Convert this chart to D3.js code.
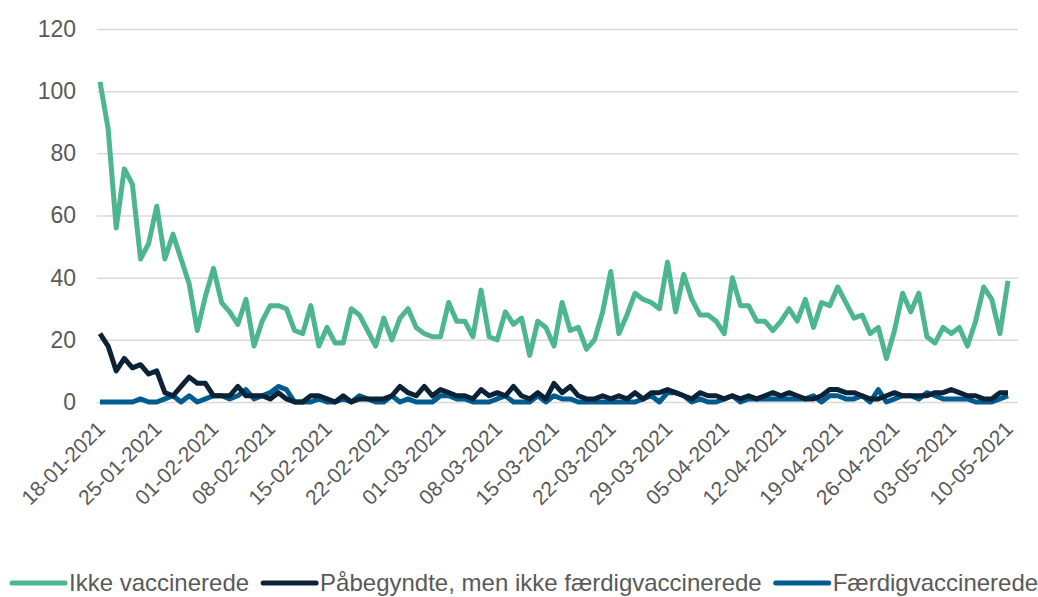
<!DOCTYPE html>
<html>
<head>
<meta charset="utf-8">
<script src="https://cdn.jsdelivr.net/npm/d3@7"></script>
<style>
  body { margin: 0; background: #fff; }
  #graf { width: 1038px; height: 597px; }
  text { font-family: "Liberation Sans", Arial, sans-serif; fill: #595959; }
</style>
</head>
<body>
<div id="graf"></div>
<script>
// -- Datos --
startDate = '18-01-2021'
endDate   = '10-05-2021'

ikkeVacc = [103, 88, 56, 75, 70, 46, 51, 63, 46, 54, 46, 38, 23, 34, 43, 32, 29, 25, 33, 18,
            26, 31, 31, 30, 23, 22, 31, 18, 24, 19, 19, 30, 28, 23, 18, 27, 20, 27, 30, 24,
            22, 21, 21, 32, 26, 26, 21, 36, 21, 20, 29, 25, 27, 15, 26, 24, 18, 32, 23, 24,
            17, 20, 29, 42, 22, 28, 35, 33, 32, 30, 45, 29, 41, 33, 28, 28, 26, 22, 40, 31,
            31, 26, 26, 23, 26, 30, 26, 33, 24, 32, 31, 37, 32, 27, 28, 22, 24, 14, 23, 35,
            29, 35, 21, 19, 24, 22, 24, 18, 26, 37, 33, 22, 39]

paabegyndt = [22, 18, 10, 14, 11, 12, 9, 10, 3, 2, 5, 8, 6, 6, 2, 2, 2, 5, 2, 2,
              2, 1, 3, 1, 0, 0, 2, 2, 1, 0, 2, 0, 1, 1, 1, 1, 2, 5, 3, 2,
              5, 2, 4, 3, 2, 2, 1, 4, 2, 3, 2, 5, 2, 1, 3, 1, 6, 3, 5, 2,
              1, 1, 2, 1, 2, 1, 3, 1, 3, 3, 4, 3, 2, 1, 3, 2, 2, 1, 2, 1,
              2, 1, 2, 3, 2, 3, 2, 1, 1, 2, 4, 4, 3, 3, 2, 1, 1, 2, 3, 2,
              2, 2, 2, 3, 3, 4, 3, 2, 2, 1, 1, 3, 3]

faerdig = [0, 0, 0, 0, 0, 1, 0, 0, 1, 2, 0, 2, 0, 1, 2, 2, 1, 2, 4, 1,
           2, 3, 5, 4, 0, 0, 0, 1, 0, 0, 1, 0, 2, 1, 0, 0, 2, 0, 1, 0,
           0, 0, 2, 2, 1, 1, 0, 0, 0, 1, 2, 0, 0, 0, 2, 0, 2, 1, 1, 0,
           0, 0, 0, 0, 0, 0, 0, 1, 2, 0, 3, 3, 2, 0, 1, 0, 0, 1, 2, 0,
           1, 1, 1, 1, 1, 1, 1, 1, 2, 0, 2, 2, 1, 1, 2, 0, 4, 0, 1, 2,
           2, 1, 3, 2, 1, 1, 1, 1, 0, 0, 0, 1, 2]

serieNavne  = ['Ikke vaccinerede', 'Påbegyndte, men ikke færdigvaccinerede', 'Færdigvaccinerede']
serieFarver = ['#4db68f', '#0c2237', '#005b8f']

xTickLabels = ['18-01-2021', '25-01-2021', '01-02-2021', '08-02-2021', '15-02-2021',
               '22-02-2021', '01-03-2021', '08-03-2021', '15-03-2021', '22-03-2021',
               '29-03-2021', '05-04-2021', '12-04-2021', '19-04-2021', '26-04-2021',
               '03-05-2021', '10-05-2021']
yTicks = [0, 20, 40, 60, 80, 100, 120]

parse = d3.timeParse('%d-%m-%Y')
fechas = d3.timeDay.range(parse(startDate), d3.timeDay.offset(parse(endDate), 1))

series = [ikkeVacc, paabegyndt, faerdig].map((vals, k) => ({
  navn: serieNavne[k],
  farve: serieFarver[k],
  puntos: vals.map((v, i) => ({ fecha: fechas[i], valor: v }))
}))

// -- Canvas --
ancho_total = 1038
alto_total = 597

svg = d3.select('#graf').append('svg')
        .attr('width', ancho_total)
        .attr('height', alto_total)

// -- Escaladores --
x = d3.scaleTime()
      .domain([parse(startDate), parse(endDate)])
      .range([100, 1008])
y = d3.scaleLinear()
      .domain([0, 120])
      .range([402, 29])

// -- Gridlines + eje Y --
yAxis = d3.axisLeft(y).tickValues(yTicks).tickSize(-(1018 - 97)).tickPadding(21)
yAxGroup = svg.append('g')
              .attr('transform', 'translate(97, 0)')
              .call(yAxis)
yAxGroup.select('.domain').remove()
yAxGroup.selectAll('.tick line').attr('stroke', '#d9d9d9').attr('stroke-width', 1.5)
yAxGroup.selectAll('.tick text').style('font-size', '23px').attr('fill', '#595959')

// -- Eje X (etiquetas rotadas) --
svg.append('g').selectAll('text')
   .data(xTickLabels)
   .enter()
   .append('text')
   .attr('transform', d => `translate(${x(parse(d)) + 1}, 425) rotate(-45)`)
   .attr('text-anchor', 'end')
   .attr('dy', '0.35em')
   .style('font-size', '21px')
   .text(d => d)

// -- Lineas --
linea = d3.line()
          .x(d => x(d.fecha))
          .y(d => y(d.valor))

svg.append('g').selectAll('path')
   .data(series.slice().reverse())
   .enter()
   .append('path')
   .attr('d', d => linea(d.puntos))
   .attr('fill', 'none')
   .attr('stroke', d => d.farve)
   .attr('stroke-width', 5)
   .attr('stroke-linejoin', 'round')

// -- Leyenda --
leyenda = svg.append('g').attr('transform', 'translate(0, 583)')
posX = 12
series.forEach(s => {
  leyenda.append('line')
         .attr('x1', posX).attr('x2', posX + 53)
         .attr('stroke', s.farve).attr('stroke-width', 5)
         .attr('stroke-linecap', 'round')
  t = leyenda.append('text')
             .attr('x', posX + 57)
             .attr('dy', '0.35em')
             .style('font-size', '24px')
             .text(s.navn)
  posX += 57 + t.node().getComputedTextLength() + 14
})
</script>
</body>
</html>
